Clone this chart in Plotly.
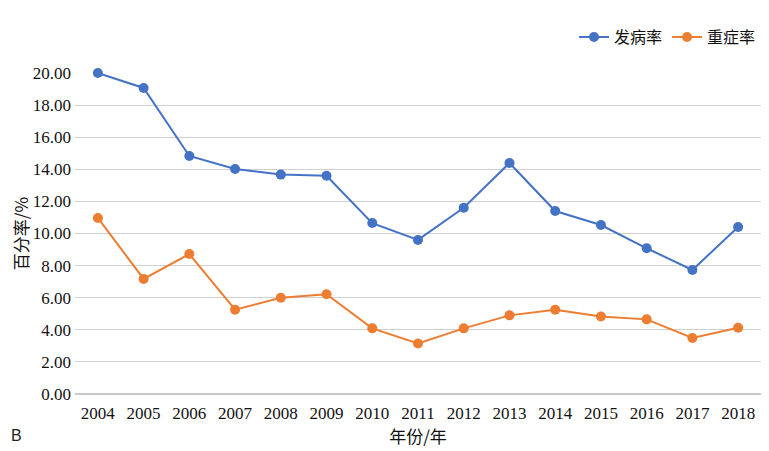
import plotly.graph_objects as go

years = ["2004", "2005", "2006", "2007", "2008", "2009", "2010", "2011",
         "2012", "2013", "2014", "2015", "2016", "2017", "2018"]
incidence = [20.0, 19.07, 14.83, 14.02, 13.67, 13.6, 10.65, 9.6,
             11.6, 14.39, 11.4, 10.53, 9.08, 7.73, 10.4]
severe = [10.97, 7.17, 8.72, 5.25, 6.0, 6.22, 4.09, 3.15,
          4.09, 4.9, 5.25, 4.83, 4.65, 3.49, 4.13]
yticks = [0, 2, 4, 6, 8, 10, 12, 14, 16, 18, 20]

serif = "'Liberation Serif', 'Times New Roman', serif"
cjk = "'Noto Sans CJK SC', sans-serif"

fig = go.Figure()
fig.add_trace(go.Scatter(x=years, y=incidence, name="发病率", mode="lines+markers",
                         line=dict(color="#4472C4", width=2),
                         marker=dict(size=10, color="#4472C4"), cliponaxis=False))
fig.add_trace(go.Scatter(x=years, y=severe, name="重症率", mode="lines+markers",
                         line=dict(color="#ED7D31", width=2),
                         marker=dict(size=10, color="#ED7D31"), cliponaxis=False))

fig.update_layout(
    width=761, height=443,
    margin=dict(l=67, r=8, t=65, b=57, autoexpand=False),
    paper_bgcolor="white", plot_bgcolor="white",
    font=dict(family=serif, size=17, color="#111"),
    showlegend=True,
    legend=dict(orientation="h", x=1.0, xanchor="right", y=0.896, yanchor="bottom",
                yref="container", itemwidth=30, tracegroupgap=0,
                font=dict(family=cjk, size=16, color="#111")),
    xaxis=dict(type="category", range=[-0.5, 14.5], showgrid=False, automargin=False,
               showline=False, ticks="", ticklabelstandoff=7,
               tickfont=dict(family=serif, size=17, color="#111"),
               title=dict(text="年份/年", font=dict(family=cjk, size=17, color="#111"),
                          standoff=8)),
    yaxis=dict(range=[0, 20], tickvals=yticks, automargin=False,
               ticktext=[f"{v:.2f}" for v in yticks],
               showgrid=True, gridcolor="#D0D0D0", gridwidth=1,
               zeroline=True, zerolinecolor="#C8C8C8", zerolinewidth=1.5,
               showline=False, ticks="", ticklabelstandoff=3,
               tickfont=dict(family=serif, size=17, color="#111"),
               title=dict(text="百分率/%", font=dict(family=cjk, size=17, color="#111"),
                          standoff=10)),
)
fig.add_annotation(text="B", xref="paper", yref="paper", x=-0.096, y=-0.13,
                   xanchor="left", yanchor="middle", showarrow=False,
                   font=dict(family="'Liberation Sans', Arial, sans-serif", size=16, color="#222"))

fig.write_html("out.html")
